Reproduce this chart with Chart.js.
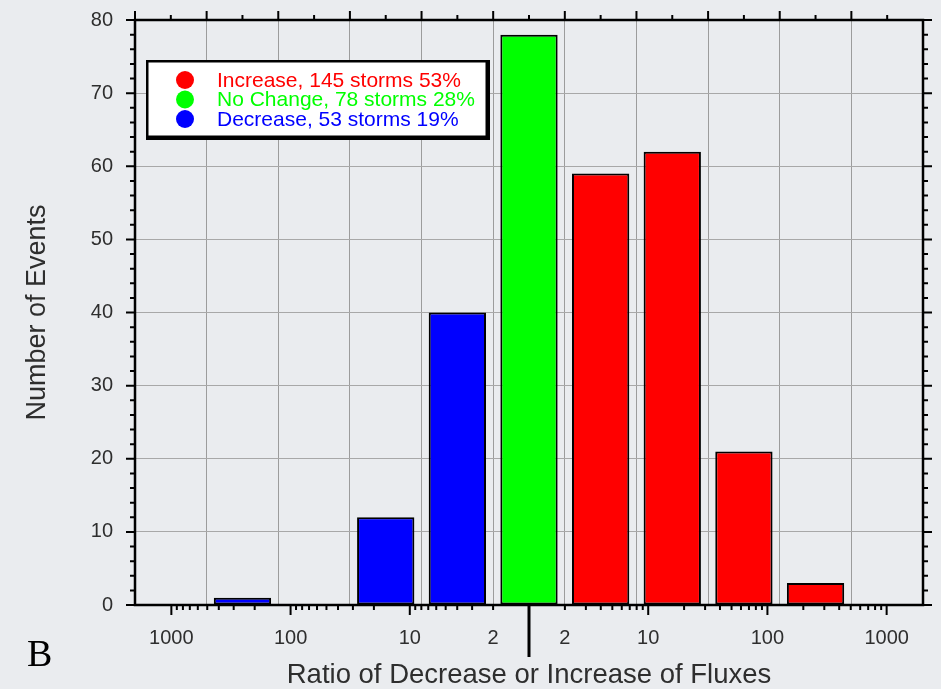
<!DOCTYPE html>
<html>
<head>
<meta charset="utf-8">
<script src="https://cdn.jsdelivr.net/npm/chart.js@4.4.1/dist/chart.umd.min.js"></script>
<style>
  html, body { margin: 0; padding: 0; background: #eaecef; }
</style>
</head>
<body>
<canvas id="graficoRapporti" width="941" height="689"></canvas>
<script>
// bins of the histogram, left = strongest decrease, right = strongest increase
const bins = ["D>1000", "D100-1000", "D30-100", "D10-30", "D2-10", "NC", "I2-10", "I10-30", "I30-100", "I100-1000", "I>1000"];
const decrease = [null, 1, null, 12, 40, null, null, null, null, null, null];
const noChange = [null, null, null, null, null, 78, null, null, null, null, null];
const increase = [null, null, null, null, null, null, 59, 62, 21, 3, null];
const seriesLabels = ["Increase, 145 storms 53%", "No Change, 78 storms 28%", "Decrease, 53 storms 19%"];
const seriesColors = ["#ff0000", "#00ff00", "#0000ff"];
const yTicks = [0, 10, 20, 30, 40, 50, 60, 70, 80];
const ratioLabels = ["1000", "100", "10", "2"]; // same on both sides of 1
const ratioValues = [1000, 100, 10, 2];

// signed log10 of the ratio: decrease to the left, increase to the right
const ratioTickVals = ratioValues.map(r => -Math.log10(r)).concat(ratioValues.slice().reverse().map(r => Math.log10(r)));
const ratioTickText = ratioLabels.concat(ratioLabels.slice().reverse());

const fontFam = "'Liberation Sans', Arial, Helvetica, sans-serif";
Chart.defaults.font.family = fontFam;

const cornice = {
  id: "cornice",
  afterDatasetsDraw(chart) {
    const { ctx, chartArea: a, scales } = chart;
    const y = scales.y, x = scales.x, xr = scales.xr;
    ctx.save();
    ctx.strokeStyle = "#000";
    ctx.lineWidth = 2.5;
    ctx.strokeRect(a.left, a.top, a.right - a.left, a.bottom - a.top);

    ctx.lineWidth = 2;
    ctx.beginPath();
    // left / right ticks
    for (let v = 0; v <= 80; v += 2) {
      const py = y.getPixelForValue(v);
      const len = v % 10 === 0 ? 9 : 5;
      ctx.moveTo(a.left, py); ctx.lineTo(a.left - len, py);
      ctx.moveTo(a.right, py); ctx.lineTo(a.right + len, py);
    }
    // top ticks: major on bin edges, minor on bin centres
    const half = (x.getPixelForValue(1) - x.getPixelForValue(0)) / 2;
    for (let i = 0; i < bins.length; i++) {
      const c = x.getPixelForValue(i);
      ctx.moveTo(c - half, a.top); ctx.lineTo(c - half, a.top - 9);
      ctx.moveTo(c, a.top); ctx.lineTo(c, a.top - 5);
    }
    // bottom: log ticks of the ratio on both sides
    for (const side of [-1, 1]) {
      for (let e = 0; e < 3; e++) {
        for (let m = 2; m <= 9; m++) {
          const px = xr.getPixelForValue(side * Math.log10(m * Math.pow(10, e)));
          ctx.moveTo(px, a.bottom); ctx.lineTo(px, a.bottom + 5);
        }
        const pm = xr.getPixelForValue(side * (e + 1));
        ctx.moveTo(pm, a.bottom); ctx.lineTo(pm, a.bottom + 10);
      }
    }
    ctx.stroke();

    // divider at ratio 1
    const p0 = xr.getPixelForValue(0);
    ctx.lineWidth = 3;
    ctx.beginPath();
    ctx.moveTo(p0, a.bottom); ctx.lineTo(p0, a.bottom + 52);
    ctx.stroke();
    ctx.restore();
  },
  afterDraw(chart) {
    const { ctx, chartArea: a } = chart;
    const bx = a.left + 12, by = a.top + 41, bw = 340, bh = 76;
    ctx.save();
    ctx.fillStyle = "#000";
    ctx.fillRect(bx - 1, by - 1, bw + 4, bh + 4);
    ctx.fillStyle = "#fff";
    ctx.fillRect(bx + 1.5, by + 1.5, bw - 3, bh - 3);
    ctx.font = "21px " + fontFam;
    ctx.textBaseline = "middle";
    chart.data.datasets.forEach((ds, i) => {
      const cy = by + 19 + i * 19.5;
      ctx.fillStyle = ds.backgroundColor;
      ctx.beginPath();
      ctx.arc(bx + 38, cy, 9, 0, Math.PI * 2);
      ctx.fill();
      ctx.fillText(ds.label, bx + 70, cy + 1);
    });
    // panel letter
    ctx.fillStyle = "#000";
    ctx.textBaseline = "alphabetic";
    ctx.font = "38px 'Liberation Serif', 'Times New Roman', serif";
    ctx.fillText("B", 27, 666);
    ctx.restore();
  }
};

const ctx = document.getElementById("graficoRapporti").getContext("2d");
new Chart(ctx, {
  type: "bar",
  data: {
    labels: bins,
    datasets: [
      { label: seriesLabels[0], data: increase, backgroundColor: seriesColors[0] },
      { label: seriesLabels[1], data: noChange, backgroundColor: seriesColors[1] },
      { label: seriesLabels[2], data: decrease, backgroundColor: seriesColors[2] }
    ].map(d => Object.assign(d, {
      borderColor: "#000",
      borderWidth: 2,
      borderSkipped: false,
      categoryPercentage: 0.8,
      barPercentage: 1
    }))
  },
  options: {
    responsive: false,
    animation: false,
    layout: { padding: { left: 24, right: 18, top: 20, bottom: 0 } },
    plugins: { legend: { display: false }, tooltip: { enabled: false } },
    scales: {
      x: {
        type: "category",
        stacked: true,
        position: "bottom",
        offset: true,
        ticks: { display: false },
        grid: { color: "#9c9c9c", lineWidth: 1, drawTicks: false, offset: true },
        border: { display: false },
        afterFit: s => { s.height = 0; }
      },
      xr: {
        type: "linear",
        position: "bottom",
        offset: false,
        beginAtZero: false,
        min: -3.305,
        max: 3.305,
        grid: { display: false, offset: false },
        border: { display: false },
        afterBuildTicks: s => { s.ticks = ratioTickVals.map(v => ({ value: v })); },
        afterFit: s => { s.height = 84; s.paddingLeft = 0; s.paddingRight = 0; },
        ticks: {
          autoSkip: false,
          maxRotation: 0,
          padding: 13,
          color: "#2e2e2e",
          font: { size: 20 },
          callback: (v, i) => ratioTickText[i]
        },
        title: {
          display: true,
          text: "Ratio of Decrease or Increase of Fluxes",
          color: "#2e2e2e",
          padding: 0,
          font: { size: 27.5, lineHeight: 1 }
        }
      },
      y: {
        stacked: true,
        min: 0,
        max: 80,
        afterBuildTicks: s => { s.ticks = yTicks.map(v => ({ value: v })); },
        afterFit: s => { s.width = 111; s.paddingTop = 0; s.paddingBottom = 0; },
        ticks: { padding: 22, color: "#2e2e2e", font: { size: 20 } },
        grid: { color: "#a8a8a8", lineWidth: 1, drawTicks: false },
        border: { display: false },
        title: {
          display: true,
          text: "Number of Events",
          color: "#2e2e2e",
          padding: 0,
          font: { size: 27, lineHeight: 1 }
        }
      }
    }
  },
  plugins: [cornice]
});
</script>
</body>
</html>
